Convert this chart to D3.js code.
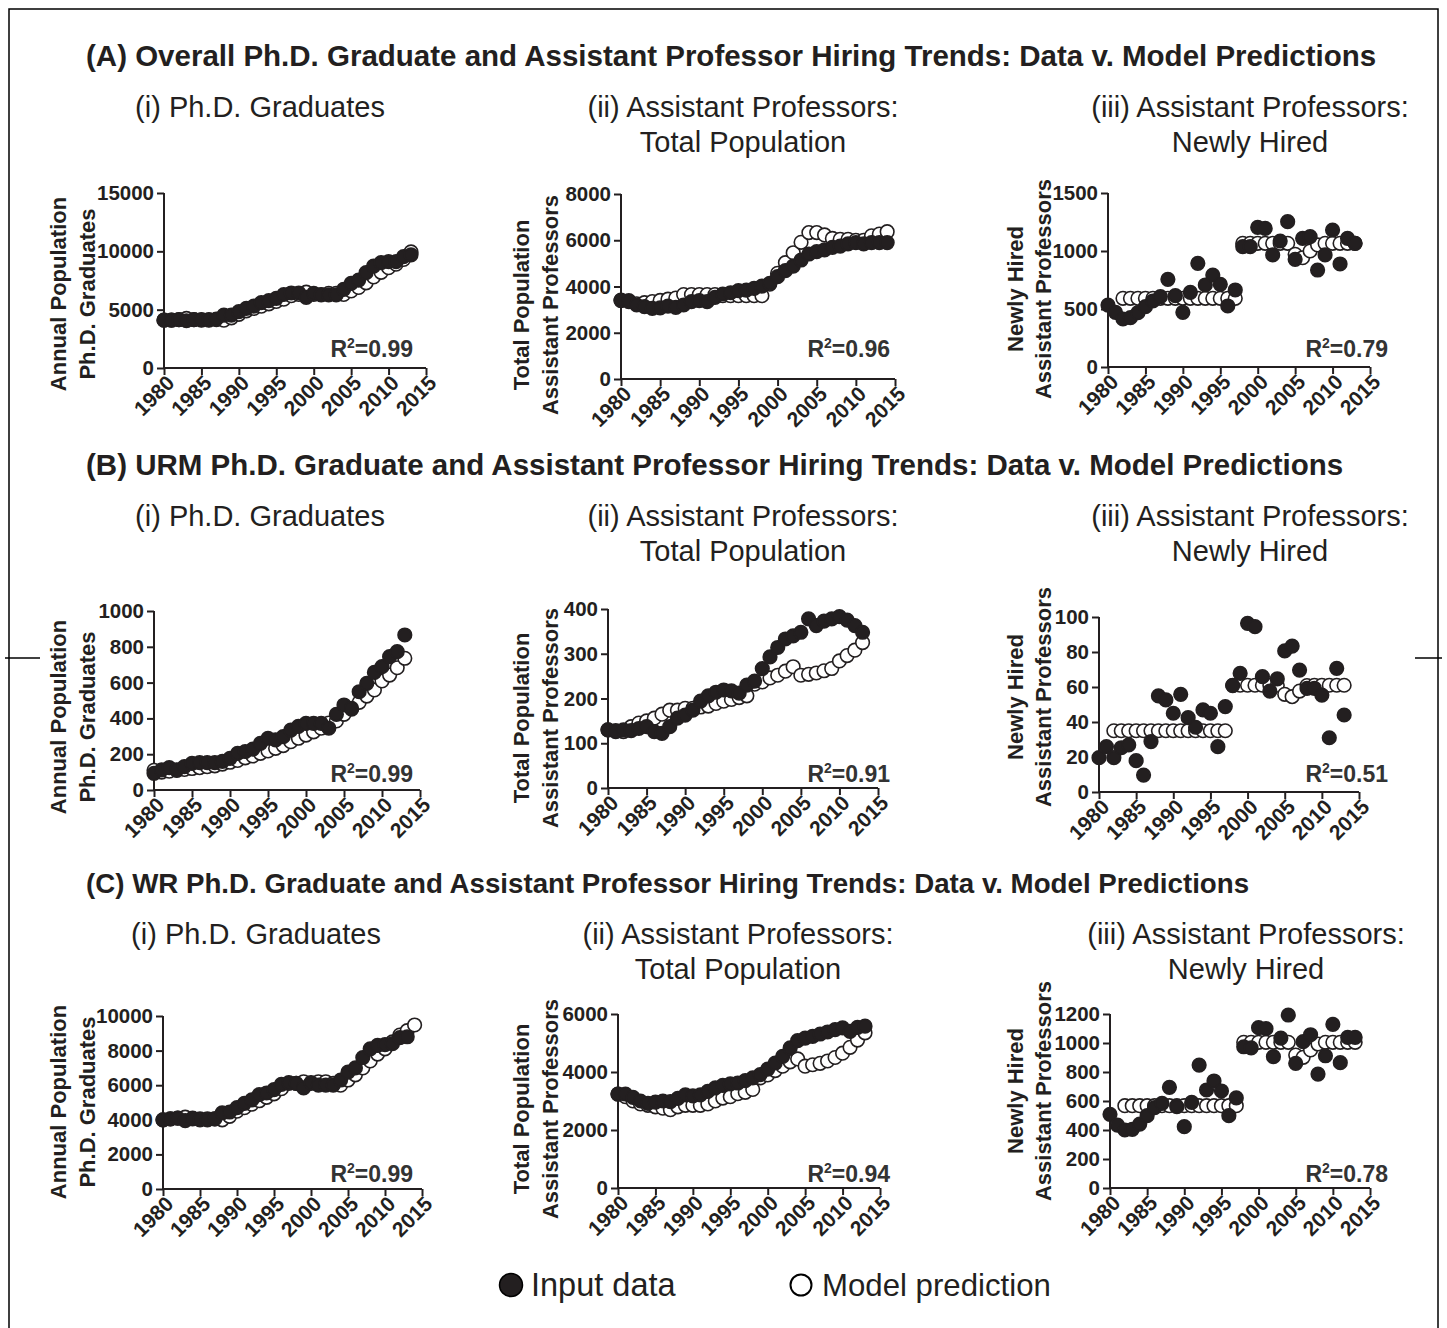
<!DOCTYPE html>
<html><head><meta charset="utf-8">
<script src="https://d3js.org/d3.v7.min.js"></script>
<style>body{margin:0;background:#fff}svg{display:block}text{font-family:"Liberation Sans",Arial,Helvetica,sans-serif;fill:#231f20}</style>
</head><body><svg id="c" width="1447" height="1328"></svg>
<script>
const years = [1980,1981,1982,1983,1984,1985,1986,1987,1988,1989,1990,1991,1992,1993,1994,1995,1996,1997,1998,1999,2000,2001,2002,2003,2004,2005,2006,2007,2008,2009,2010,2011,2012,2013,2014];
const xTicks = [1980,1985,1990,1995,2000,2005,2010,2015];

// (A) Overall
const aGradData  = [4100,4100,4150,4050,4150,4150,4150,4200,4540,4540,4830,5110,5310,5600,5770,5970,6300,6430,6430,6060,6400,6260,6260,6260,6740,7260,7540,8170,8740,9030,9110,9110,9540,9700];
const aGradModel = [4100,4100,4150,4250,4150,4100,4100,4150,4100,4300,4600,4900,5100,5300,5500,5700,5900,6200,6300,6500,6300,6300,6400,6400,6300,6600,6900,7300,7800,8200,8600,8900,9300,9950];
const aTotData   = [3416,3387,3200,3127,3055,3080,3150,3100,3200,3343,3390,3343,3530,3675,3730,3820,3845,3920,4020,4140,4425,4685,4885,5145,5405,5505,5580,5695,5750,5840,5900,5840,5900,5900,5900];
const aTotModel  = [3390,3350,3250,3300,3350,3400,3450,3500,3650,3650,3650,3650,3650,3600,3600,3600,3600,3600,3600,4100,4570,5030,5460,5910,6330,6330,6230,6080,6040,6040,6000,6000,6190,6270,6370];
const aNewData   = [534,471,414,425,468,520,569,606,756,615,471,644,894,707,793,713,526,664,1037,1037,1204,1195,966,1086,1253,928,1109,1124,836,966,1181,888,1109,1066];
const aNewModel  = [null,null,592,592,592,592,592,592,592,592,592,592,592,592,592,592,592,592,1066,1066,1066,1066,1066,1066,1066,971,942,1000,1052,1066,1066,1066,1066,1066];

// (B) URM
const bGradData  = [93,112,125,112,131,149,153,153,153,160,177,205,215,228,260,289,280,298,335,356,372,372,372,345,423,475,456,549,596,657,689,745,773,866];
const bGradModel = [110,100,105,110,115,120,125,130,135,145,155,165,180,190,205,218,233,248,270,289,307,325,345,374,386,423,452,490,525,559,609,642,683,736];
const bTotData   = [130,126,130,128,133,137,126,122,137,156,163,174,194,206,214,219,217,212,230,239,267,293,314,333,340,348,378,363,373,378,383,375,363,348];
const bTotModel  = [130,128,126,137,145,150,156,165,174,174,178,178,181,183,189,194,198,202,206,232,237,246,252,261,271,252,254,257,262,267,284,296,308,325];
const bNewData   = [19.6,25.9,19.6,25.3,26.9,17.9,9.7,28.8,54.9,52.6,45,55.8,42.5,37,46.9,45,25.9,48.8,60.8,67.8,96.4,94.5,65.9,57.7,64.6,80.6,83.4,69.7,59.2,59.2,55.4,31,70.7,44];
const bNewModel  = [null,null,35,35,35,35,35,35,35,35,35,35,35,35,35,35,35,35,61,61,61,61,61,61,61,55.8,54.5,57.7,60.8,61,61,61,61,61];

// (C) WR
const cGradData  = [3990,4050,4100,3950,4050,4000,4000,4050,4400,4450,4700,4950,5150,5450,5550,5750,6050,6150,6100,5850,6150,6000,6000,6000,6300,6750,7000,7600,8100,8300,8350,8400,8750,8800];
const cGradModel = [4000,4050,4100,4150,4100,4050,4050,4050,4000,4200,4500,4700,4900,5100,5300,5500,5800,6100,6100,6200,6100,6200,6200,6100,6000,6300,6600,7000,7400,7800,8100,8500,8900,9150,9480];
const cTotData   = [3241,3241,3126,3000,2920,2960,3000,2980,3090,3210,3180,3210,3330,3450,3540,3590,3620,3700,3800,3910,4100,4310,4540,4830,5080,5170,5230,5310,5380,5460,5520,5400,5540,5580];
const cTotModel  = [3240,3150,3000,2900,2850,2800,2750,2700,2800,2850,2850,2850,2900,3000,3100,3150,3250,3300,3400,3800,3900,4050,4200,4350,4450,4200,4250,4300,4380,4500,4650,4850,5100,5350];
const cNewData   = [508,434,400,405,441,499,554,584,694,561,423,591,848,676,738,669,499,621,974,967,1106,1099,906,1034,1193,860,1009,1057,786,912,1129,864,1039,1039];
const cNewModel  = [null,null,568,568,568,568,568,568,568,568,568,568,568,568,568,568,568,568,1005,1005,1005,1005,1005,1005,1005,917,901,952,993,1005,1005,1005,1005,1005];

const ticksA1 = [0,5000,10000,15000], ticksA2 = [0,2000,4000,6000,8000], ticksA3 = [0,500,1000,1500];
const ticksB1 = [0,200,400,600,800,1000], ticksB2 = [0,100,200,300,400], ticksB3 = [0,20,40,60,80,100];
const ticksC1 = [0,2000,4000,6000,8000,10000], ticksC2 = [0,2000,4000,6000], ticksC3 = [0,200,400,600,800,1000,1200];

const rowTitles = ["(A) Overall Ph.D. Graduate and Assistant Professor Hiring Trends: Data v. Model Predictions",
                   "(B) URM Ph.D. Graduate and Assistant Professor Hiring Trends: Data v. Model Predictions",
                   "(C) WR Ph.D. Graduate and Assistant Professor Hiring Trends: Data v. Model Predictions"];
const colTitles = [["(i) Ph.D. Graduates"],["(ii) Assistant Professors:","Total Population"],["(iii) Assistant Professors:","Newly Hired"]];
const yTitles = [["Annual Population","Ph.D. Graduates"],["Total Population","Assistant Professors"],["Newly Hired","Assistant Professors"]];
const r2Labels = [["0.99","0.96","0.79"],["0.99","0.91","0.51"],["0.99","0.94","0.78"]];
const legendLabels = ["Input data","Model prediction"];

const svg = d3.select("#c");
const ink = "#231f20";

// frame
svg.append("path").attr("d","M9,1328V9H1438V1328").attr("fill","none").attr("stroke","#000").attr("stroke-width",1.5);
svg.append("line").attr("x1",5).attr("x2",40).attr("y1",658).attr("y2",658).attr("stroke","#000").attr("stroke-width",1.5);
svg.append("line").attr("x1",1415).attr("x2",1442).attr("y1",658).attr("y2",658).attr("stroke","#000").attr("stroke-width",1.5);

const rowLayout = [{titleY:66, tfs:29.5, subY:117}, {titleY:475, tfs:29.5, subY:526}, {titleY:893, tfs:27.7, subY:944}];
const colCenters = [[260,743,1250],[260,743,1250],[256,738,1246]];

rowTitles.forEach((t,i)=>{
  svg.append("text").attr("x",86).attr("y",rowLayout[i].titleY).attr("font-size",rowLayout[i].tfs).attr("font-weight","bold").text(t);
  colTitles.forEach((lines,j)=>{
    lines.forEach((ln,k)=>{
      svg.append("text").attr("x",colCenters[i][j]).attr("y",rowLayout[i].subY+k*35).attr("text-anchor","middle").attr("font-size",29).text(ln);
    });
  });
});

const panels = [
 {row:0,col:0,x0:164,x1:426,yt:193,yb:368,max:15000,ticks:ticksA1,data:aGradData,model:aGradModel,tc:294,tx:[58,87]},
 {row:0,col:1,x0:621,x1:895,yt:194,yb:379,max:8000,ticks:ticksA2,data:aTotData,model:aTotModel,tc:305,tx:[521,550]},
 {row:0,col:2,x0:1108,x1:1370,yt:193,yb:367,max:1500,ticks:ticksA3,data:aNewData,model:aNewModel,tc:289,tx:[1015,1043]},
 {row:1,col:0,x0:154,x1:420,yt:611,yb:790,max:1000,ticks:ticksB1,data:bGradData,model:bGradModel,tc:717,tx:[58,87]},
 {row:1,col:1,x0:608,x1:878,yt:609,yb:788,max:400,ticks:ticksB2,data:bTotData,model:bTotModel,tc:718,tx:[521,550]},
 {row:1,col:2,x0:1099,x1:1359,yt:617,yb:792,max:100,ticks:ticksB3,data:bNewData,model:bNewModel,tc:697,tx:[1015,1043]},
 {row:2,col:0,x0:163,x1:422,yt:1016,yb:1189,max:10000,ticks:ticksC1,data:cGradData,model:cGradModel,tc:1102,tx:[58,87]},
 {row:2,col:1,x0:618,x1:880,yt:1014,yb:1188,max:6000,ticks:ticksC2,data:cTotData,model:cTotModel,tc:1109,tx:[521,550]},
 {row:2,col:2,x0:1110,x1:1370,yt:1014,yb:1188,max:1200,ticks:ticksC3,data:cNewData,model:cNewModel,tc:1091,tx:[1015,1043]}
];
const r2Right = [413,890,1388];
const r2Y = [357,782,1182];

panels.forEach(p=>{
  const x = d3.scaleLinear().domain([1980,2015]).range([p.x0,p.x1]);
  const y = d3.scaleLinear().domain([0,p.max]).range([p.yb,p.yt]);
  const g = svg.append("g");
  const xa = g.append("g").attr("transform",`translate(0,${p.yb})`)
    .call(d3.axisBottom(x).tickValues(xTicks).tickFormat(d3.format("d")).tickSizeOuter(0).tickSize(7).tickPadding(4));
  xa.selectAll("text").attr("font-size",21).attr("font-weight","bold").attr("fill",ink)
    .attr("text-anchor","end").attr("transform","translate(6,11) rotate(-45)").attr("dy","0.35em").attr("y",0).attr("x",0);
  const ya = g.append("g").attr("transform",`translate(${p.x0},0)`)
    .call(d3.axisLeft(y).tickValues(p.ticks).tickFormat(d3.format("d")).tickSizeOuter(0).tickSize(7).tickPadding(3));
  ya.selectAll("text").attr("font-size",20.5).attr("font-weight","bold").attr("fill",ink);
  [xa,ya].forEach(a=>{a.selectAll(".domain,.tick line").attr("stroke",ink).attr("stroke-width",2);});
  xa.select(".domain").attr("d",`M${p.x0},0H${p.x1}`);
  ya.select(".domain").attr("d",`M0,${p.yb}V${p.yt}`);

  yTitles[p.col].forEach((t,k)=>{
    g.append("text").attr("transform",`translate(${p.tx[k]},${p.tc}) rotate(-90)`).attr("dy","0.35em")
      .attr("text-anchor","middle").attr("font-size",22).attr("font-weight","bold").text(t);
  });

  const pts = (arr)=>arr.map((v,i)=>({yr:years[i],v})).filter(d=>d.v!=null);
  g.selectAll("circle.m").data(pts(p.model)).join("circle").attr("class","m")
    .attr("cx",d=>x(d.yr)).attr("cy",d=>y(d.v)).attr("r",6.8).attr("fill","#fff").attr("stroke",ink).attr("stroke-width",1.6);
  g.selectAll("circle.d").data(pts(p.data)).join("circle").attr("class","d")
    .attr("cx",d=>x(d.yr)).attr("cy",d=>y(d.v)).attr("r",6.8).attr("fill",ink).attr("stroke",ink).attr("stroke-width",1.6);

  const rt = g.append("text").attr("x",r2Right[p.col]).attr("y",r2Y[p.row]).attr("text-anchor","end")
    .attr("font-size",23).attr("font-weight","bold").style("fill","#333");
  rt.append("tspan").text("R");
  rt.append("tspan").attr("font-size",14).attr("dy",-9).text("2");
  rt.append("tspan").attr("dy",9).text("="+r2Labels[p.row][p.col]);
});

// legend
svg.append("circle").attr("cx",511).attr("cy",1285).attr("r",11.5).attr("fill",ink).attr("stroke","#000").attr("stroke-width",1.5);
svg.append("text").attr("x",531).attr("y",1296).attr("font-size",32.5).text(legendLabels[0]);
svg.append("circle").attr("cx",801).attr("cy",1285).attr("r",10.5).attr("fill","#fff").attr("stroke","#000").attr("stroke-width",2);
svg.append("text").attr("x",822).attr("y",1296).attr("font-size",31.2).text(legendLabels[1]);
</script></body></html>
